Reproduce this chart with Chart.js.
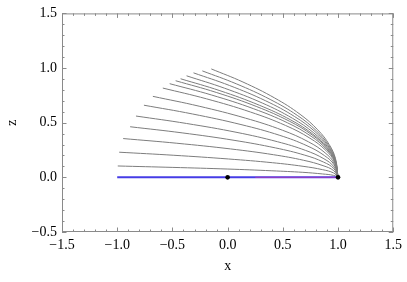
<!DOCTYPE html>
<html>
<head>
<meta charset="utf-8">
<script src="https://cdn.jsdelivr.net/npm/chart.js@4.4.0/dist/chart.umd.min.js"></script>
<style>
html, body { margin: 0; padding: 0; background: #fff; }
</style>
</head>
<body>
<canvas id="myChart" width="407" height="282"></canvas>
<script>
// gray curves, each from its left end down to (1, 0)
const curveX = [
    [-0.148, 0.139, 0.426, 0.656, 0.816, 0.920, 0.977, 1],
    [-0.229, 0.078, 0.385, 0.631, 0.803, 0.914, 0.975, 1],
    [-0.309, 0.018, 0.345, 0.607, 0.791, 0.908, 0.974, 1],
    [-0.372, -0.029, 0.314, 0.588, 0.780, 0.904, 0.973, 1],
    [-0.426, -0.070, 0.287, 0.572, 0.772, 0.900, 0.971, 1],
    [-0.471, -0.103, 0.264, 0.559, 0.765, 0.897, 0.971, 1],
    [-0.525, -0.144, 0.237, 0.542, 0.756, 0.893, 0.969, 1],
    [-0.587, -0.190, 0.206, 0.524, 0.746, 0.889, 0.968, 1],
    [-0.677, -0.258, 0.161, 0.497, 0.732, 0.883, 0.966, 1],
    [-0.758, -0.319, 0.121, 0.473, 0.719, 0.877, 0.965, 1],
    [-0.830, -0.373, 0.085, 0.451, 0.707, 0.872, 0.963, 1],
    [-0.883, -0.412, 0.058, 0.435, 0.699, 0.868, 0.962, 1],
    [-0.946, -0.460, 0.027, 0.416, 0.689, 0.864, 0.961, 1],
    [-0.982, -0.487, 0.009, 0.405, 0.683, 0.861, 0.960, 1],
    [-0.995, -0.496, 0.002, 0.401, 0.681, 0.860, 0.960, 1]
];
const curveZ = [
    [0.992, 0.872, 0.726, 0.577, 0.435, 0.300, 0.171, 0],
    [0.974, 0.856, 0.713, 0.567, 0.427, 0.294, 0.168, 0],
    [0.956, 0.840, 0.700, 0.556, 0.419, 0.289, 0.164, 0],
    [0.929, 0.816, 0.680, 0.540, 0.407, 0.281, 0.160, 0],
    [0.902, 0.793, 0.660, 0.525, 0.395, 0.273, 0.155, 0],
    [0.884, 0.777, 0.647, 0.514, 0.388, 0.267, 0.152, 0],
    [0.857, 0.753, 0.627, 0.499, 0.376, 0.259, 0.147, 0],
    [0.817, 0.718, 0.598, 0.475, 0.358, 0.247, 0.141, 0],
    [0.741, 0.651, 0.542, 0.431, 0.325, 0.224, 0.127, 0],
    [0.660, 0.580, 0.483, 0.384, 0.289, 0.199, 0.114, 0],
    [0.561, 0.493, 0.411, 0.326, 0.246, 0.170, 0.096, 0],
    [0.463, 0.407, 0.339, 0.269, 0.203, 0.140, 0.080, 0],
    [0.355, 0.312, 0.260, 0.207, 0.156, 0.107, 0.061, 0],
    [0.230, 0.202, 0.168, 0.134, 0.101, 0.070, 0.040, 0],
    [0.104, 0.091, 0.076, 0.060, 0.046, 0.031, 0.018, 0]
];
const blueX = [-1, 1];
const blueZ = [0, 0];
const pinkX = [0.25, 1];
const pinkZ = [0, 0];
const dotX = [0, 1];
const dotZ = [0, 0];
const xTicks = [-1.5, -1, -0.5, 0, 0.5, 1, 1.5];
const zTicks = [-0.5, 0, 0.5, 1, 1.5];

function toPoints(xs, ys) {
    return xs.map((x, i) => ({x: x, y: ys[i]}));
}

// tick label like mathematica: one decimal, real minus sign
function fmt(v) {
    let s = Math.abs(v).toFixed(1);
    return v < 0 ? '\u2212' + s : s;
}

let datasets = [];
datasets.push({data: toPoints(dotX, dotZ), showLine: false, pointRadius: 2.3,
    pointBackgroundColor: '#000', pointBorderWidth: 0, order: 0});
datasets.push({data: toPoints(pinkX, pinkZ), showLine: true, borderColor: 'rgba(200,60,170,0.55)',
    borderWidth: 1.4, pointRadius: 0, order: 1});
datasets.push({data: toPoints(blueX, blueZ), showLine: true, borderColor: 'rgb(70,60,230)',
    borderWidth: 2, pointRadius: 0, order: 2});
for (let i = 0; i < curveX.length; i++) {
    datasets.push({data: toPoints(curveX[i], curveZ[i]), showLine: true, borderColor: 'rgb(125,125,125)',
        borderWidth: 1, pointRadius: 0, tension: 0.4, order: 3});
}

// frame with inward ticks on all four sides
const frameTicks = {
    id: 'frameTicks',
    afterDraw(chart) {
        const c = chart.ctx, a = chart.chartArea;
        const sx = chart.scales.x, sy = chart.scales.y;
        c.save();
        c.strokeStyle = '#8a8a8a';
        c.lineWidth = 1;
        c.strokeRect(a.left + 0.5, a.top + 0.5, a.right - a.left - 1, a.bottom - a.top - 1);
        c.beginPath();
        for (let k = -15; k <= 15; k++) {
            let len = (k % 5 === 0) ? 4.5 : 2.5;
            let px = Math.round(sx.getPixelForValue(k / 10)) + 0.5;
            c.moveTo(px, a.bottom); c.lineTo(px, a.bottom - len);
            c.moveTo(px, a.top); c.lineTo(px, a.top + len);
        }
        for (let k = -5; k <= 15; k++) {
            let len = (k % 5 === 0) ? 4.5 : 2.5;
            let py = Math.round(sy.getPixelForValue(k / 10)) + 0.5;
            c.moveTo(a.left, py); c.lineTo(a.left + len, py);
            c.moveTo(a.right, py); c.lineTo(a.right - len, py);
        }
        c.stroke();
        c.restore();
    }
};

const serif = {family: "'Liberation Serif', 'DejaVu Serif', serif", size: 14};

new Chart(document.getElementById('myChart'), {
    type: 'scatter',
    data: {datasets: datasets},
    plugins: [frameTicks],
    options: {
        responsive: false,
        devicePixelRatio: 1,
        animation: false,
        layout: {padding: {left: 0, right: 10, top: 9, bottom: 0}},
        plugins: {legend: {display: false}, tooltip: {enabled: false}},
        scales: {
            x: {
                type: 'linear', min: -1.5, max: 1.5,
                afterBuildTicks: s => { s.ticks = xTicks.map(v => ({value: v})); },
                afterFit: s => { s.height = 50; },
                grid: {display: false, drawTicks: false},
                border: {display: false},
                ticks: {color: '#000', font: serif, padding: 5, maxRotation: 0, callback: v => fmt(v)},
                title: {display: true, text: 'x', color: '#000', font: serif, padding: {top: 0, bottom: 7}}
            },
            y: {
                type: 'linear', min: -0.5, max: 1.5,
                afterBuildTicks: s => { s.ticks = zTicks.map(v => ({value: v})); },
                afterFit: s => { s.width = 62; },
                grid: {display: false, drawTicks: false},
                border: {display: false},
                ticks: {color: '#000', font: serif, padding: 5, callback: v => fmt(v)},
                title: {display: true, text: 'z', color: '#000', font: serif, padding: {top: 4, bottom: 0}}
            }
        }
    }
});
</script>
</body>
</html>
